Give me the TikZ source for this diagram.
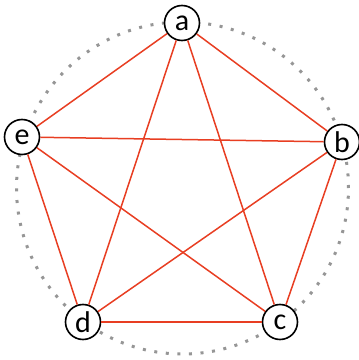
\documentclass[tikz,border=0pt]{standalone}
\usepackage{fontspec}
\setmainfont{Carlito}
\usepackage{tikz}
\usetikzlibrary{calc}
\definecolor{edgered}{RGB}{232,62,34}
\definecolor{dotgray}{RGB}{150,150,150}
\tikzset{
    myvertex/.style={circle,draw=black,fill=white,line width=1.6pt,inner sep=0pt,minimum size=35pt,font=\fontsize{30}{30}\selectfont},
    myedge/.style={line width=1.5pt,draw=edgered},
    myring/.style={draw=dotgray,line width=3pt,dash pattern=on 3pt off 8.6pt}
}

\begin{document}
\begin{tikzpicture}[x=1pt,y=1pt]
  \useasboundingbox (0,0) rectangle (359,360);
  \coordinate (O) at (182.5,172);
  \draw[myring] (O) circle (166);
  \node[myvertex] (a) at (182,337) {a};
  \node[myvertex] (b) at (342,218) {b};
  \node[myvertex] (c) at (280,38) {c};
  \node[myvertex] (d) at (83,38) {d};
  \node[myvertex] (e) at (22,223) {e};
  \foreach \P/\Q in {a/b,a/c,a/d,a/e,b/c,b/d,b/e,c/d,c/e,d/e}{
    \draw[myedge] (\P) -- (\Q);
  }
\end{tikzpicture}
\end{document}
